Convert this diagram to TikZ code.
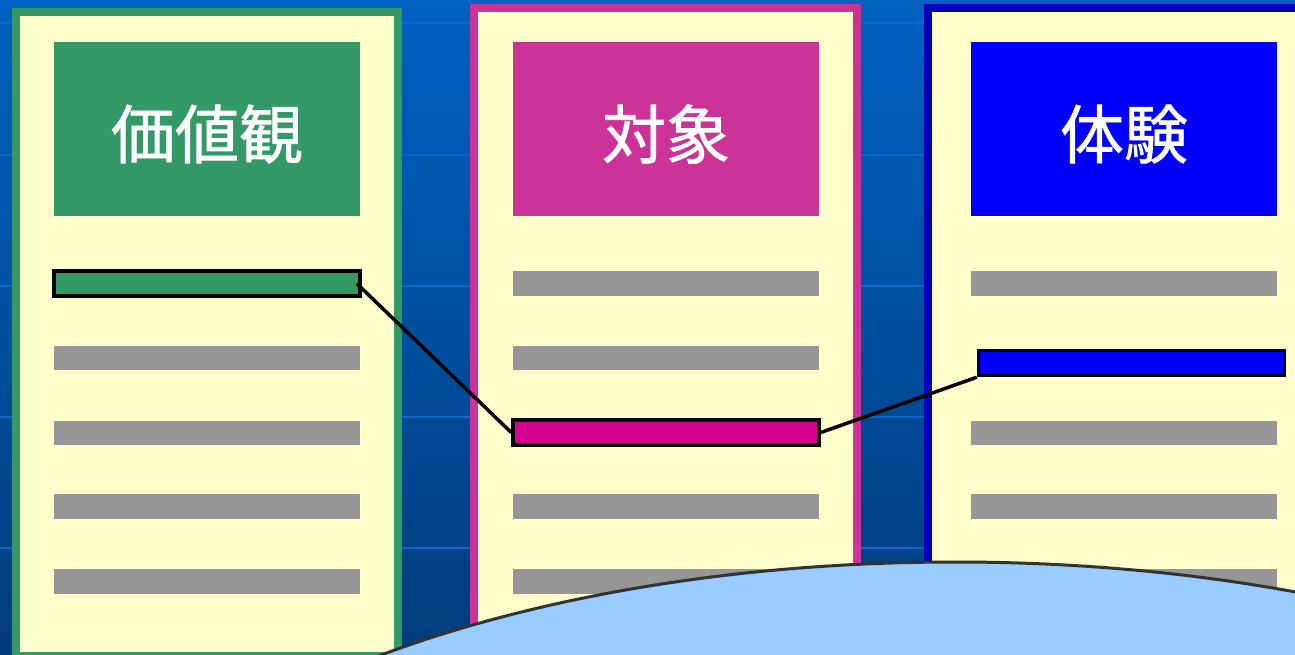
\documentclass[tikz,border=0pt]{standalone}
\usepackage{fontspec}
\newfontfamily\cjk[FakeBold=1]{Noto Sans CJK JP}
\definecolor{bgtop}{HTML}{0062C2}
\definecolor{bgbot}{HTML}{003C7C}
\definecolor{gridl}{HTML}{0A68CC}
\definecolor{cream}{HTML}{FFFFCC}
\definecolor{pgreen}{HTML}{339966}
\definecolor{pmag}{HTML}{CC3399}
\definecolor{pblueb}{HTML}{0000BB}
\definecolor{pblue}{HTML}{0000FF}
\definecolor{barmag}{HTML}{D4008F}
\definecolor{bargray}{HTML}{969696}
\definecolor{ellfill}{HTML}{99CCFF}
\definecolor{elledge}{HTML}{333333}
\begin{document}
\begin{tikzpicture}[x=1pt,y=-1pt,
  panel/.style={fill=cream, line width=8pt},
  header/.style={rectangle, minimum width=306pt, minimum height=174pt, inner sep=0pt, draw=none},
  title/.style={text=white, font=\cjk\fontsize{64}{64}\selectfont, inner sep=0pt},
  graybar/.style={rectangle, fill=bargray, minimum width=306pt, minimum height=24.5pt, inner sep=0pt},
  hibar/.style={rectangle, draw=black, line width=3.5pt, minimum width=306pt, minimum height=25pt, inner sep=0pt},
  link/.style={line width=3.5pt, black}]
\useasboundingbox (0,0) rectangle (1295,654);
\begin{scope}
\clip (0,0) rectangle (1295,654);
\shade[top color=bgtop, bottom color=bgbot] (0,0) rectangle (1295,654);
\foreach \y in {23,155,286,417,548} \draw[gridl, line width=2.5pt] (0,\y) -- (1295,\y);
% panels
\draw[panel, draw=pgreen] (16,12) rectangle (398,656);
\draw[panel, draw=pmag] (474,8) rectangle (857,720);
\draw[panel, draw=pblueb] (928,8) rectangle (1400,720);
% headers
\node[header, fill=pgreen] (h1) at (207,129) {};
\node[title] (t1) at (207,134) {価値観};
\node[header, fill=pmag] (h2) at (666,129) {};
\node[title] (t2) at (666,134) {対象};
\node[header, fill=pblue] (h3) at (1124,129) {};
\node[title] (t3) at (1124,134) {体験};
% panel 1 bars
\node[hibar, fill=pgreen] (g1) at (207,283.5) {};
\node[graybar] (g2) at (207,358) {};
\node[graybar] (g3) at (207,433) {};
\node[graybar] (g4) at (207,506.5) {};
\node[graybar] (g5) at (207,581.5) {};
% panel 2 bars
\node[graybar] (m1) at (666,283.5) {};
\node[graybar] (m2) at (666,358) {};
\node[hibar, fill=barmag] (m3) at (666,432.5) {};
\node[graybar] (m4) at (666,506.5) {};
\node[graybar] (m5) at (666,581.5) {};
% panel 3 bars
\node[graybar] (b1) at (1124,283.5) {};
\node[hibar, fill=pblue] (b2) at (1131.5,363) {};
\node[graybar] (b3) at (1124,433) {};
\node[graybar] (b4) at (1124,506.5) {};
\node[graybar] (b5) at (1124,581.5) {};
% connectors
\draw[link] ([xshift=-5pt]g1.east) -- (m3.west);
\draw[link] (m3.east) -- (b2.south west);
% ellipse
\draw[elledge, fill=ellfill, line width=3pt] (955,967) ellipse [x radius=900pt, y radius=405pt];
\end{scope}
\end{tikzpicture}
\end{document}
